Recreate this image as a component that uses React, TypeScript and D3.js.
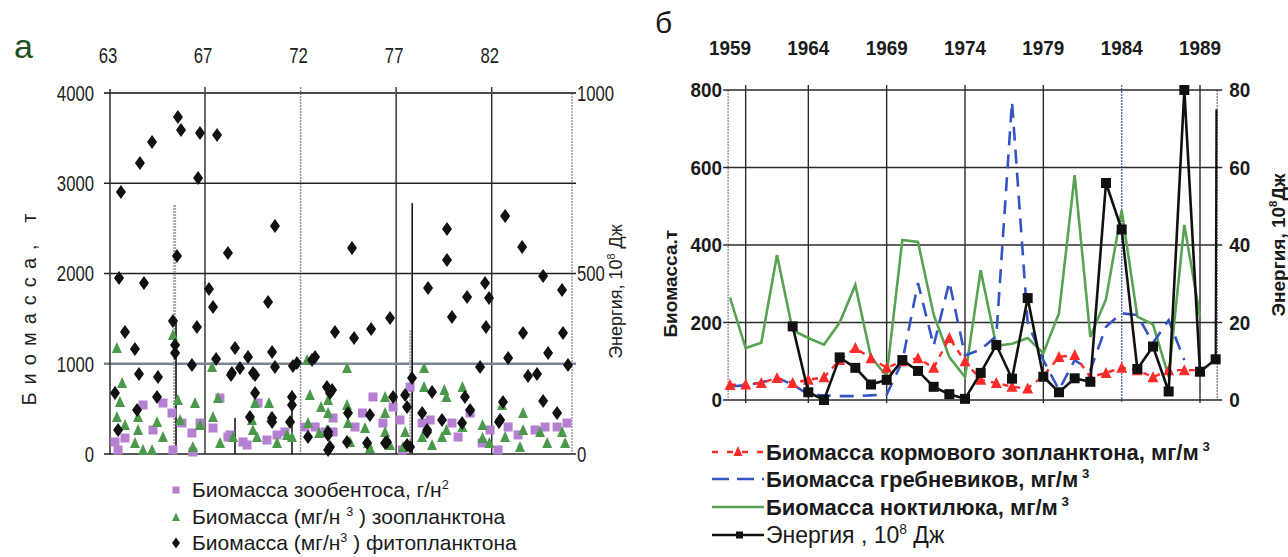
import { useEffect, useRef } from "react";
import * as d3 from "d3";

// ---------- панель а ----------
const topTicksA = [63, 67, 72, 77, 82];
const leftTicksA = [0, 1000, 2000, 3000, 4000];
const rightTicksA = [0, 500, 1000];
const gridYearsA = [67, 72, 77, 82];

// [год, биомасса]
const zoobenthos: [number, number][] = [
  [63.21, 133], [63.63, 177], [63.34, 44], [64.39, 543], [64.81, 266], [65.23, 565], [65.61, 454],
  [66.03, 343], [65.65, 44], [66.45, 233], [66.79, 343], [66.49, 22], [67.42, 288], [67.78, 620],
  [68.31, 211], [68.99, 133], [68.2, 188], [69.2, 100], [69.77, 565], [70.24, 155], [70.77, 211],
  [71.18, 244], [72.23, 299], [72.76, 299], [73.28, 244], [73.7, 399], [73.7, 244], [74.85, 299],
  [75.24, 454], [75.79, 632], [76.31, 343], [76.84, 521], [77.2, 377], [77.73, 742], [77.33, 44],
  [78.36, 343], [78.78, 377], [79.92, 343], [80.24, 188], [80.87, 454], [81.5, 122], [81.91, 266],
  [82.33, 44], [82.86, 299], [83.38, 211], [84.27, 266], [84.79, 299], [85.42, 299], [85.94, 343],
];

const zooplankton: [number, number][] = [
  [63.29, 1174], [63.51, 787], [63.42, 576], [63.29, 410], [63.63, 321], [64.18, 410], [64.18, 266],
  [64.05, 122], [64.39, 44], [64.98, 355], [65.23, 188], [64.77, 44], [65.65, 1318], [65.86, 598],
  [65.95, 377], [66.58, 565], [66.79, 321], [66.49, 78], [67.37, 964], [67.42, 410], [67.68, 620],
  [67.79, 122], [68.47, 188], [69.46, 377], [69.51, 266], [69.72, 188], [69.62, 565], [70.35, 565],
  [70.45, 410], [70.77, 122], [71.29, 211], [71.55, 188], [72.49, 654], [72.34, 1042], [72.39, 343],
  [72.97, 233], [73.07, 521], [73.44, 598], [73.44, 454], [73.38, 266], [74.43, 953], [74.43, 543],
  [74.48, 343], [74.59, 133], [75.37, 288], [75.53, 122], [75.63, 66], [76.42, 632], [76.42, 454],
  [76.42, 244], [76.68, 100], [77.47, 244], [77.36, 78], [78.46, 953], [78.46, 742], [78.36, 188],
  [78.88, 100], [79.4, 188], [79.52, 709], [79.63, 632], [79.63, 266], [80.47, 742], [80.47, 299],
  [81.52, 321], [81.52, 177], [81.88, 122], [82.54, 543], [82.7, 188], [83.64, 454], [83.64, 266],
  [83.48, 78], [84.53, 244], [84.9, 122], [85.68, 244], [85.84, 122],
];

const phytoplankton: [number, number][] = [
  [63.46, 2903], [64.26, 3224], [64.77, 3457], [65.86, 3734], [65.99, 3590], [66.79, 3557], [66.71, 3058],
  [67.63, 3535], [65.82, 2194], [68.2, 2227], [70.66, 2526], [74.69, 2282], [79.66, 2493], [79.66, 2150],
  [82.7, 2637], [83.59, 2294], [84.69, 1972], [78.67, 1839], [80.71, 1740], [81.65, 1895], [81.86, 1728],
  [85.68, 1817], [79.92, 1518], [81.7, 1407], [83.64, 1341], [85.73, 1341], [84.95, 1119], [82.86, 1064],
  [85.99, 986], [81.39, 964], [83.9, 864], [84.37, 886], [84.69, 587], [85.42, 454], [82.59, 576],
  [78.88, 687], [80.6, 632], [80.87, 488], [78.36, 454], [79.4, 377], [80.45, 343], [78.62, 244],
  [82.38, 355], [77.83, 842], [76.68, 1507], [75.69, 1385], [74.8, 1285], [73.8, 1352], [70.3, 1684],
  [70.51, 1130], [70.66, 964], [71.6, 975], [71.81, 1008], [72.76, 1075], [72.6, 1042], [69.62, 875],
  [69.62, 676], [69.35, 410], [70.51, 355], [71.55, 632], [71.45, 355], [73.38, 742], [73.65, 709],
  [74.48, 454], [75.63, 432], [76.84, 632], [77.47, 654], [77.57, 521], [72.39, 188], [73.44, 244],
  [73.44, 44], [74.43, 133], [75.48, 122], [76.52, 133], [77.73, 78], [63.38, 1950], [64.43, 1895],
  [67.21, 1828], [67.42, 1629], [65.65, 1474], [66.66, 1407], [63.63, 1352], [64.05, 1163], [65.74, 1119],
  [65.74, 1208], [66.45, 986], [67.58, 1053], [68.57, 1174], [69.25, 1075], [68.83, 953], [68.36, 875],
  [64.22, 886], [65.02, 853], [63.21, 676], [64.98, 632], [64.14, 488], [63.34, 266], [71.55, 543],
  [70.51, 399], [73.54, 676], [73.54, 78], [73.44, 211], [76.42, 122], [77.57, 100], [78.62, 266],
  [82.44, 377], [68.41, 897], [69.51, 897],
];

// вертикальные отрезки [год, от, до]
const blackRules: [number, number, number][] = [
  [65.78, 0, 1500], [68.57, 0, 400], [71.55, 0, 700], [77.84, 0, 2780],
];
const grayRules: [number, number, number][] = [
  [65.72, 0, 2760], [77.76, 0, 1370],
];

// ---------- панель б ----------
const topTicksB = [1959, 1964, 1969, 1974, 1979, 1984, 1989];
const gridYearsB = [1960, 1964, 1969, 1974, 1979, 1984, 1989];
const leftTicksB = [0, 200, 400, 600, 800];
const rightTicksB = [0, 20, 40, 60, 80];

const fodderZoo: [number, number][] = [
  [1959, 39], [1960, 40], [1961, 44], [1962, 57], [1963, 44], [1964, 52], [1965, 59], [1966, 103],
  [1967, 134], [1968, 108], [1969, 83], [1970, 100], [1971, 108], [1972, 83], [1973, 160], [1974, 100],
  [1975, 52], [1976, 44], [1977, 34], [1978, 30], [1979, 62], [1980, 111], [1981, 116], [1982, 59],
  [1983, 70], [1984, 83], [1985, 77], [1986, 59], [1987, 77], [1988, 77], [1989, 77],
];
const ctenophores: [number, number][] = [
  [1959, 35], [1960, 38], [1961, 45], [1962, 57], [1963, 40], [1964, 14], [1965, 12], [1966, 10],
  [1967, 10], [1968, 12], [1969, 14], [1970, 100], [1971, 302], [1972, 140], [1973, 305], [1974, 115],
  [1975, 130], [1976, 165], [1977, 770], [1978, 200], [1979, 103], [1980, 26], [1981, 103], [1982, 77],
  [1983, 189], [1984, 224], [1985, 219], [1986, 147], [1987, 206], [1988, 103],
];
const noctiluca: [number, number][] = [
  [1959, 264], [1960, 134], [1961, 148], [1962, 374], [1963, 180], [1964, 160], [1965, 143], [1966, 200],
  [1967, 297], [1968, 110], [1969, 62], [1970, 413], [1971, 408], [1972, 220], [1973, 111], [1974, 59],
  [1975, 335], [1976, 140], [1977, 145], [1978, 160], [1979, 121], [1980, 224], [1981, 580], [1982, 163],
  [1983, 260], [1984, 490], [1985, 215], [1986, 195], [1987, 60], [1988, 452], [1989, 215],
];
const energy: [number, number][] = [
  [1963, 19], [1964, 2], [1965, 0], [1966, 11], [1967, 8.3], [1968, 4], [1969, 5.2], [1970, 10.3],
  [1971, 7.5], [1972, 3.4], [1973, 1.5], [1974, 0.3], [1975, 7], [1976, 14.2], [1977, 5.5], [1978, 26.3],
  [1979, 6], [1980, 2], [1981, 5.6], [1982, 4.7], [1983, 56], [1984, 44], [1985, 8], [1986, 13.8],
  [1987, 2.2], [1988, 80], [1989, 7.3], [1990, 10.5],
];
const energyTail: [number, number][] = [[1990, 10.5], [1990.05, 75]];

const sans = "'Liberation Sans', Arial, sans-serif";

type Part = { t: string; sup?: boolean };

function rich(sel: any, parts: Part[], size: number) {
  let prevSup = false;
  parts.forEach((p) => {
    const ts = sel.append("tspan").text(p.t);
    if (p.sup) {
      ts.attr("dy", -size * 0.4).attr("font-size", size * 0.6);
      prevSup = true;
    } else {
      ts.attr("dy", prevSup ? size * 0.4 : 0);
      prevSup = false;
    }
  });
}

// сжатый по ширине текст
function ntext(parent: any, x: number, y: number, sx: number, size: number) {
  return parent
    .append("g")
    .attr("transform", `translate(${x},${y}) scale(${sx},1)`)
    .append("text")
    .attr("font-family", sans)
    .attr("font-size", size);
}

function diamond(sel: any) {
  sel.append("path").attr("d", "M0,-7L5,0L0,7L-5,0Z").attr("fill", "#111");
  sel.append("circle").attr("r", 3.6).attr("fill", "#111");
}

function drawPanelA(g: any) {
  const x = d3.scaleLinear().domain([63, 67, 86.2]).range([110, 205, 572]);
  const y = d3.scaleLinear().domain([0, 4000]).range([454, 93]);
  const yR = d3.scaleLinear().domain([0, 1000]).range([454, 93]);
  const [x0, x1] = [x(63), x(86.2)];

  // сетка
  g.append("line").attr("x1", x1).attr("x2", x1).attr("y1", y(4000)).attr("y2", y(0))
    .attr("stroke", "#9a9aa6").attr("stroke-width", 1.5).attr("stroke-dasharray", "2,1");
  gridYearsA.forEach((v) => {
    g.append("line").attr("x1", x(v)).attr("x2", x(v)).attr("y1", y(4000) - 6).attr("y2", y(0))
      .attr("stroke", v === 72 ? "#8a8a96" : "#2b2b2b")
      .attr("stroke-width", 1.4)
      .attr("stroke-dasharray", v === 72 ? "2,1" : null);
  });
  leftTicksA.forEach((v) => {
    g.append("line").attr("x1", x0 - 6).attr("x2", x1 + 4).attr("y1", y(v)).attr("y2", y(v))
      .attr("stroke", v === 1000 ? "#7c8596" : v === 4000 ? "#4a4a4a" : "#222")
      .attr("stroke-width", v === 1000 ? 2.6 : v === 4000 ? 2 : 1.5);
  });
  g.append("line").attr("x1", x0).attr("x2", x0).attr("y1", y(4000) - 4).attr("y2", y(0))
    .attr("stroke", "#2b2b2b").attr("stroke-width", 1.5);

  // вертикальные отрезки
  grayRules.forEach(([yr, lo, hi]) => {
    g.append("line").attr("x1", x(yr)).attr("x2", x(yr)).attr("y1", y(hi)).attr("y2", y(lo))
      .attr("stroke", "#a8a8b0").attr("stroke-width", 3).attr("stroke-dasharray", "2,1");
  });
  blackRules.forEach(([yr, lo, hi]) => {
    g.append("line").attr("x1", x(yr)).attr("x2", x(yr)).attr("y1", y(hi)).attr("y2", y(lo))
      .attr("stroke", "#1a1a1a").attr("stroke-width", 1.6);
  });

  // точки
  g.append("g").selectAll("rect").data(zoobenthos).enter().append("rect")
    .attr("x", (d: any) => x(d[0]) - 4.5).attr("y", (d: any) => y(d[1]) - 4.5)
    .attr("width", 9).attr("height", 9).attr("fill", "#b57fd2");
  g.append("g").selectAll("path").data(zooplankton).enter().append("path")
    .attr("transform", (d: any) => `translate(${x(d[0])},${y(d[1])})`)
    .attr("d", "M0,-6L5,5L-5,5Z").attr("fill", "#4b9a4b");
  g.append("g").selectAll("g").data(phytoplankton).enter().append("g")
    .attr("transform", (d: any) => `translate(${x(d[0])},${y(d[1])})`)
    .each(function (this: any) { diamond(d3.select(this)); });

  // подписи осей
  const tick = (px: number, py: number, anchor: string, v: number) =>
    ntext(g, px, py, 0.76, 22).attr("text-anchor", anchor).attr("dominant-baseline", "central")
      .attr("fill", "#1e1e1e").text(v);
  leftTicksA.forEach((v) => tick(x0 - 16, y(v), "end", v));
  rightTicksA.forEach((v) => tick(x1 + 5, yR(v), "start", v));
  topTicksA.forEach((v) => tick(x(v) - 2, 55, "middle", v));

  g.append("text").attr("x", 14).attr("y", 58).attr("font-family", sans).attr("font-size", 34)
    .attr("fill", "#1f4f22").text("а");

  g.append("text").attr("transform", `translate(36,${y(1600)}) rotate(-90)`)
    .attr("text-anchor", "middle").attr("font-family", sans).attr("font-size", 20).attr("fill", "#222")
    .attr("textLength", 192).attr("lengthAdjust", "spacing").text("Биомасса, т");

  const rt = g.append("text").attr("transform", `translate(622,${yR(450)}) rotate(-90)`)
    .attr("text-anchor", "middle").attr("font-family", sans).attr("font-size", 18).attr("fill", "#222");
  rich(rt, [{ t: "Энергия, 10" }, { t: "8", sup: true }, { t: " Дж" }], 18);

  // легенда
  const rows: Part[][] = [
    [{ t: "Биомасса зообентоса, г/н" }, { t: "2", sup: true }],
    [{ t: "Биомасса (мг/н " }, { t: "3", sup: true }, { t: " ) зоопланктона" }],
    [{ t: "Биомасса (мг/н" }, { t: "3", sup: true }, { t: " ) фитопланктона" }],
  ];
  const ly = [490, 517, 543];
  rows.forEach((parts, i) => {
    const gy = ly[i];
    const m = g.append("g").attr("transform", `translate(176,${gy})`);
    if (i === 0) m.append("rect").attr("x", -3.5).attr("y", -3.5).attr("width", 7).attr("height", 7).attr("fill", "#b57fd2");
    if (i === 1) m.append("path").attr("d", "M0,-4.5L4,4L-4,4Z").attr("fill", "#4b9a4b");
    if (i === 2) m.append("path").attr("d", "M0,-5.5L4,0L0,5.5L-4,0Z").attr("fill", "#111");
    const t = g.append("text").attr("x", 192).attr("y", gy + 7).attr("font-family", sans)
      .attr("font-size", 21).attr("fill", "#1a1a1a");
    rich(t, parts, 21);
  });
}

function drawPanelB(g: any) {
  const x = d3.scaleLinear().domain([1959, 1989]).range([730, 1200]);
  const y = d3.scaleLinear().domain([0, 800]).range([400, 90]);
  const yE = d3.scaleLinear().domain([0, 80]).range([400, 90]);
  const [x0, x1] = [x(1958.88), x(1990.1)];

  g.append("line").attr("x1", x0).attr("x2", x0).attr("y1", y(800)).attr("y2", y(0))
    .attr("stroke", "#9a9aa6").attr("stroke-width", 1.5).attr("stroke-dasharray", "2,1");
  g.append("line").attr("x1", x1).attr("x2", x1).attr("y1", y(800)).attr("y2", y(0))
    .attr("stroke", "#8a8a96").attr("stroke-width", 1.5).attr("stroke-dasharray", "2,1");
  gridYearsB.forEach((v) => {
    g.append("line").attr("x1", x(v)).attr("x2", x(v)).attr("y1", y(800) - 5).attr("y2", y(0) + 3)
      .attr("stroke", v === 1984 ? "#5b6fb4" : "#2b2b2b").attr("stroke-width", 1.4)
      .attr("stroke-dasharray", v === 1984 ? "2,1" : null);
  });
  leftTicksB.forEach((v) => {
    g.append("line").attr("x1", x0 - 5).attr("x2", x1 + 5).attr("y1", y(v)).attr("y2", y(v))
      .attr("stroke", "#2b2b2b").attr("stroke-width", 1.5);
  });

  const line = d3.line<[number, number]>().x((d) => x(d[0])).y((d) => y(d[1]));
  const lineE = d3.line<[number, number]>().x((d) => x(d[0])).y((d) => yE(d[1]));

  g.append("path").attr("d", line(noctiluca)).attr("fill", "none").attr("stroke", "#58a352").attr("stroke-width", 2.6);
  g.append("path").attr("d", line(ctenophores)).attr("fill", "none").attr("stroke", "#3454c4")
    .attr("stroke-width", 2.6).attr("stroke-dasharray", "14,9");
  g.append("path").attr("d", line(fodderZoo)).attr("fill", "none").attr("stroke", "#ff2a2a")
    .attr("stroke-width", 2.4).attr("stroke-dasharray", "6,6");
  g.append("g").selectAll("path").data(fodderZoo).enter().append("path")
    .attr("transform", (d: any) => `translate(${x(d[0])},${y(d[1])})`)
    .attr("d", "M0,-6L5.5,5L-5.5,5Z").attr("fill", "#ff2a2a");
  g.append("path").attr("d", lineE(energyTail)).attr("fill", "none").attr("stroke", "#111").attr("stroke-width", 2.2);
  g.append("path").attr("d", lineE(energy)).attr("fill", "none").attr("stroke", "#111").attr("stroke-width", 2.6);
  g.append("g").selectAll("rect").data(energy).enter().append("rect")
    .attr("x", (d: any) => x(d[0]) - 5).attr("y", (d: any) => yE(d[1]) - 5)
    .attr("width", 10).attr("height", 10).attr("fill", "#111");

  const tick = (px: number, py: number, anchor: string, v: number) =>
    ntext(g, px, py, 0.9, 21).attr("font-weight", "bold").attr("fill", "#1a1a1a")
      .attr("text-anchor", anchor).attr("dominant-baseline", "central").text(v);
  leftTicksB.forEach((v) => tick(x0 - 6, y(v), "end", v));
  rightTicksB.forEach((v) => tick(x1 + 12, yE(v), "start", v));
  topTicksB.forEach((v) => tick(x(v), 48, "middle", v));

  g.append("text").attr("x", 655).attr("y", 33).attr("font-family", sans).attr("font-size", 30)
    .attr("fill", "#1a1a1a").text("б");

  g.append("text").attr("transform", `translate(677,${y(300)}) rotate(-90)`)
    .attr("text-anchor", "middle").attr("font-family", sans).attr("font-size", 19)
    .attr("font-weight", "bold").attr("fill", "#1a1a1a").text("Биомасса.т");
  const rt = g.append("text").attr("transform", `translate(1285,${yE(40)}) rotate(-90)`)
    .attr("text-anchor", "middle").attr("font-family", sans).attr("font-size", 19)
    .attr("font-weight", "bold").attr("fill", "#1a1a1a");
  rich(rt, [{ t: "Энергия, " }, { t: "10" }, { t: "8", sup: true }, { t: "Дж" }], 19);

  // легенда
  const rows: Part[][] = [
    [{ t: "Биомасса кормового зопланктона, мг/м" }, { t: " 3", sup: true }],
    [{ t: "Биомасса гребневиков, мг/м" }, { t: " 3", sup: true }],
    [{ t: "Биомасса ноктилюка, мг/м" }, { t: " 3", sup: true }],
    [{ t: "Энергия , 10" }, { t: "8", sup: true }, { t: " Дж" }],
  ];
  const ly = [452, 479, 507, 535];
  rows.forEach((parts, i) => {
    const gy = ly[i];
    const l = g.append("line").attr("x1", 712).attr("x2", 764).attr("y1", gy).attr("y2", gy);
    if (i === 0) {
      l.attr("stroke", "#ff2a2a").attr("stroke-width", 2.4).attr("stroke-dasharray", "6,9");
      g.append("path").attr("transform", `translate(738,${gy})`).attr("d", "M0,-6L4.5,4L-4.5,4Z").attr("fill", "#ff2a2a");
    }
    if (i === 1) l.attr("stroke", "#3454c4").attr("stroke-width", 2.6).attr("stroke-dasharray", "17,8");
    if (i === 2) l.attr("stroke", "#58a352").attr("stroke-width", 2.6);
    if (i === 3) {
      l.attr("stroke", "#111").attr("stroke-width", 2.4);
      g.append("rect").attr("x", 736).attr("y", gy - 3.5).attr("width", 7).attr("height", 7).attr("fill", "#111");
    }
    const size = i === 3 ? 23 : 22;
    const t = g.append("text").attr("x", 766).attr("y", gy + 8).attr("font-family", sans)
      .attr("font-size", size).attr("font-weight", i === 3 ? "normal" : "bold").attr("fill", "#1a1a1a");
    rich(t, parts, size);
  });
}

export default function App() {
  const svgRef = useRef<SVGSVGElement>(null);

  useEffect(() => {
    const svg = svgRef.current;
    if (!svg) return;
    const root = d3.select(svg);
    root.selectAll("*").remove();
    root.append("rect").attr("width", 1288).attr("height", 557).attr("fill", "#fff");
    drawPanelA(root.append("g"));
    drawPanelB(root.append("g"));
  }, []);

  return (
    <svg
      ref={svgRef}
      width={1288}
      height={557}
      style={{ position: "absolute", left: 0, top: 0, display: "block" }}
    />
  );
}
